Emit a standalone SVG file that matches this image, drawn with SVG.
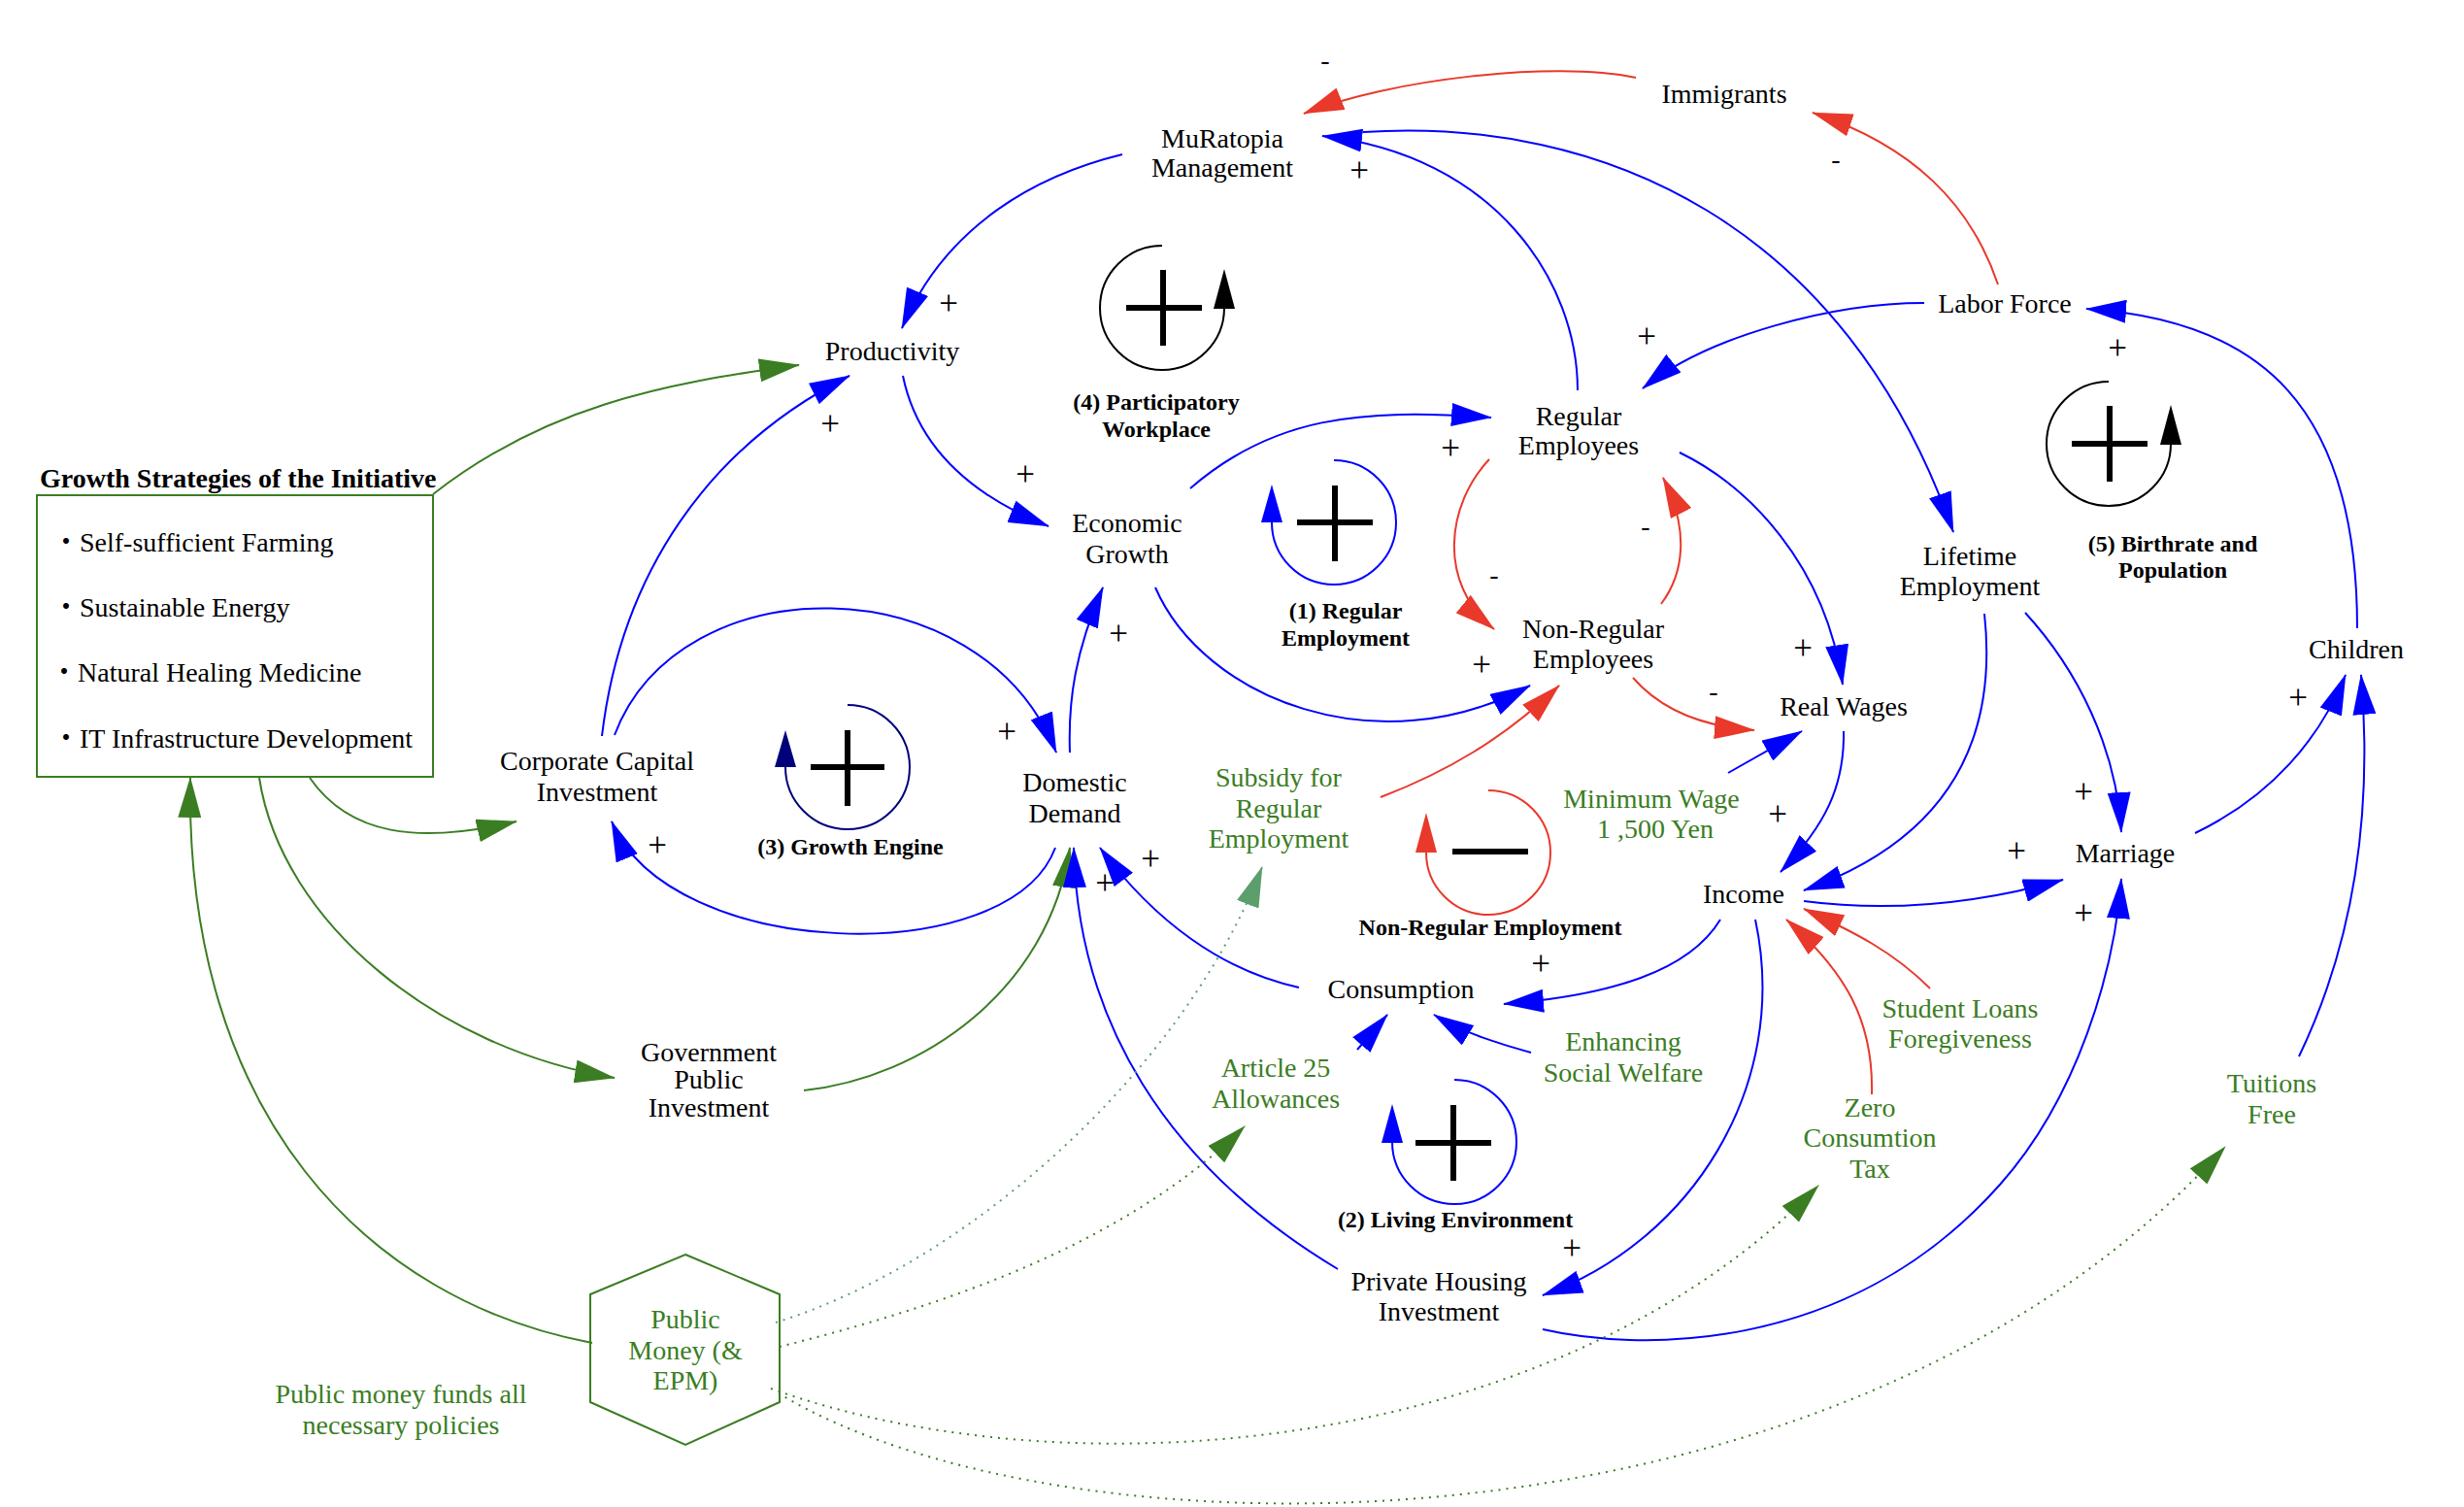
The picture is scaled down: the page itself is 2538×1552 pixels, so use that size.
<svg xmlns="http://www.w3.org/2000/svg" width="2538" height="1552" viewBox="0 0 2538 1552">
<style>
.t{font-family:"Liberation Serif","Noto Sans CJK JP",serif;font-size:28px;text-anchor:middle;fill:#000}
.p{font-size:35px}
.l{text-anchor:start}
.gr{fill:#3b7d23}
.bd{font-weight:bold;font-size:24px}
.tt{font-weight:bold;font-size:28px;text-anchor:start}
.c{fill:none;stroke-width:2}
.cb{stroke:#0000ff;marker-end:url(#ab)}
.cr{stroke:#e8392b;marker-end:url(#ar)}
.cg{stroke:#3b7d23;marker-end:url(#ag)}
.cd{stroke:#3b7d23;stroke-dasharray:2 6;marker-end:url(#ag)}
.cl{stroke:#5c9f6c;stroke-dasharray:2 6;marker-end:url(#al)}
.sym{stroke:#000;stroke-width:6;fill:none}
</style>
<defs>
<marker id="ab" viewBox="0 0 42 24" refX="41" refY="12" markerWidth="42" markerHeight="24" markerUnits="userSpaceOnUse" orient="auto"><path d="M0,0 L42,12 L0,24 z" fill="#0000ff"/></marker>
<marker id="ar" viewBox="0 0 42 24" refX="41" refY="12" markerWidth="42" markerHeight="24" markerUnits="userSpaceOnUse" orient="auto"><path d="M0,0 L42,12 L0,24 z" fill="#e8392b"/></marker>
<marker id="ag" viewBox="0 0 42 24" refX="41" refY="12" markerWidth="42" markerHeight="24" markerUnits="userSpaceOnUse" orient="auto"><path d="M0,0 L42,12 L0,24 z" fill="#3b7d23"/></marker>
<marker id="al" viewBox="0 0 42 24" refX="41" refY="12" markerWidth="42" markerHeight="24" markerUnits="userSpaceOnUse" orient="auto"><path d="M0,0 L42,12 L0,24 z" fill="#5c9f6c"/></marker>
</defs>
<rect width="2538" height="1552" fill="#fff"/>

<g id="connectors">
<path class="c cr" d="M1685,80 C1600,62 1430,82 1343,117"/>
<path class="c cr" d="M2058,293 C2030,210 1970,150 1867,116"/>
<path class="c cb" d="M1156,159 C1070,180 975,230 929,338"/>
<path class="c cb" d="M1625,402 C1625,290 1540,160 1362,140"/>
<path class="c cb" d="M1404,136 C1650,120 1900,230 2012,548"/>
<path class="c cb" d="M1982,312 C1890,312 1760,345 1692,400"/>
<path class="c cb" d="M2428,647 C2428,420 2330,330 2149,318"/>
<path class="c cb" d="M930,387 C945,460 1000,510 1080,542"/>
<path class="c cb" d="M1226,503 C1310,430 1400,420 1536,430"/>
<path class="c cb" d="M1190,605 C1240,720 1420,790 1576,706"/>
<path class="c cb" d="M1102,775 C1100,720 1108,670 1136,605"/>
<path class="c cb" d="M633,757 C700,580 1010,580 1088,775"/>
<path class="c cb" d="M620,758 C640,590 730,460 875,387"/>
<path class="c cb" d="M1087,873 C1040,1000 690,990 630,846"/>
<path class="c cg" d="M446,509 C560,420 680,395 823,376"/>
<path class="c cg" d="M319,801 C360,860 430,870 532,846"/>
<path class="c cg" d="M267,801 C290,950 450,1080 633,1110"/>
<path class="c cg" d="M610,1383 C380,1340 190,1150 196,801"/>
<path class="c cg" d="M828,1123 C950,1110 1080,1020 1102,873"/>
<path class="c cb" d="M1378,1307 C1200,1200 1110,1050 1106,873"/>
<path class="c cb" d="M1338,1017 C1260,1000 1190,950 1133,873"/>
<path class="c cb" d="M1772,947 C1740,1000 1660,1025 1549,1034"/>
<path class="c cb" d="M1577,1084 C1545,1075 1510,1065 1477,1045"/>
<path class="c cb" d="M1398,1081 L1429,1045"/>
<path class="c cb" d="M1808,947 C1845,1120 1740,1280 1589,1334"/>
<path class="c cb" d="M1589,1369 C1680,1390 1900,1400 2060,1220 C2140,1130 2178,1000 2185,905"/>
<path class="c cb" d="M1858,928 C1950,940 2040,930 2125,906"/>
<path class="c cb" d="M2044,632 C2060,780 1990,870 1858,917"/>
<path class="c cb" d="M2086,631 C2140,690 2180,770 2185,857"/>
<path class="c cb" d="M2261,858 C2340,820 2390,760 2416,695"/>
<path class="c cb" d="M2368,1088 C2420,980 2445,850 2432,695"/>
<path class="c cb" d="M1730,466 C1800,500 1880,580 1898,705"/>
<path class="c cb" d="M1899,753 C1900,810 1880,850 1834,898"/>
<path class="c cb" d="M1780,796 L1856,753"/>
<path class="c cr" d="M1534,473 C1490,520 1480,600 1539,648"/>
<path class="c cr" d="M1711,622 C1735,590 1740,545 1713,492"/>
<path class="c cr" d="M1682,698 C1710,730 1750,748 1807,752"/>
<path class="c cr" d="M1422,821 C1490,795 1550,760 1606,706"/>
<path class="c cr" d="M1988,1018 C1950,980 1910,960 1858,936"/>
<path class="c cr" d="M1928,1127 C1930,1050 1900,1000 1840,947"/>
<path class="c cl" d="M799,1362 C1000,1300 1220,1100 1300,893"/>
<path class="c cd" d="M803,1387 C950,1350 1150,1290 1282,1160"/>
<path class="c cd" d="M794,1430 C1100,1540 1600,1500 1873,1221"/>
<path class="c cd" d="M802,1435 C1100,1615 1900,1615 2292,1181"/>
</g>

<g id="polarity">
<text class="t p" x="1400" y="187">+</text>
<text class="t p" x="977" y="324">+</text>
<text class="t p" x="855" y="448">+</text>
<text class="t p" x="1056" y="500">+</text>
<text class="t p" x="1494" y="473">+</text>
<text class="t p" x="1696" y="358">+</text>
<text class="t p" x="2181" y="370">+</text>
<text class="t p" x="1152" y="664">+</text>
<text class="t p" x="1037" y="765">+</text>
<text class="t p" x="1526" y="696">+</text>
<text class="t p" x="1857" y="679">+</text>
<text class="t p" x="1831" y="850">+</text>
<text class="t p" x="677" y="882">+</text>
<text class="t p" x="1185" y="896">+</text>
<text class="t p" x="1138" y="921">+</text>
<text class="t p" x="1587" y="1004">+</text>
<text class="t p" x="1619" y="1297">+</text>
<text class="t p" x="2146" y="827">+</text>
<text class="t p" x="2077" y="888">+</text>
<text class="t p" x="2146" y="952">+</text>
<text class="t p" x="2367" y="730">+</text>
<text class="t" x="1365" y="71">-</text>
<text class="t" x="1891" y="173">-</text>
<text class="t" x="1539" y="601">-</text>
<text class="t" x="1695" y="551">-</text>
<text class="t" x="1765" y="721">-</text>
</g>

<g id="loop-4">
<path d="M1197,253 A64,64 0 1 0 1261,317" fill="none" stroke="#000" stroke-width="2"/>
<polygon points="1250,318 1272,318 1261,277" fill="#000"/>
<path class="sym" d="M1198,278 V356 M1160,317 H1238"/>
<text class="t bd" x="1191" y="422">(4) Participatory<tspan x="1191" y="450">Workplace</tspan></text>
</g>
<g id="loop-5">
<path d="M2172,393 A64,64 0 1 0 2236,457" fill="none" stroke="#000" stroke-width="2"/>
<polygon points="2225,458 2247,458 2236,417" fill="#000"/>
<path class="sym" d="M2173,418 V496 M2134,457 H2212"/>
<text class="t bd" x="2238" y="568">(5) Birthrate and<tspan x="2238" y="595">Population</tspan></text>
</g>
<g id="loop-1">
<path d="M1374,474 A64,64 0 1 1 1310,538" fill="none" stroke="#0000ff" stroke-width="2"/>
<polygon points="1299,538 1321,538 1310,499" fill="#0000ff"/>
<path class="sym" d="M1375,500 V578 M1336,538 H1414"/>
<text class="t bd" x="1386" y="637">(1) Regular<tspan x="1386" y="665">Employment</tspan></text>
</g>
<g id="loop-3">
<path d="M873,726 A64,64 0 1 1 809,790" fill="none" stroke="#00007a" stroke-width="2"/>
<polygon points="798,790 820,790 809,752" fill="#00007a"/>
<path class="sym" d="M873,752 V830 M835,790 H911"/>
<text class="t bd" x="876" y="880">(3) Growth Engine</text>
</g>
<g id="loop-2">
<path d="M1498,1112 A64,64 0 1 1 1434,1176" fill="none" stroke="#0000ff" stroke-width="2"/>
<polygon points="1423,1177 1445,1177 1434,1137" fill="#0000ff"/>
<path class="sym" d="M1497,1138 V1216 M1458,1177 H1536"/>
<text class="t bd" x="1499" y="1264">(2) Living Environment</text>
</g>
<g id="loop-nonregular">
<path d="M1533,814 A64,64 0 1 1 1469,878" fill="none" stroke="#e8392b" stroke-width="2"/>
<polygon points="1458,878 1480,878 1469,837" fill="#e8392b"/>
<path class="sym" d="M1496,877 H1574"/>
<text class="t bd" x="1535" y="963">Non-Regular Employment</text>
</g>

<g id="n-muratopia"><text class="t" x="1259" y="152">MuRatopia<tspan x="1259" y="182">Management</tspan></text></g>
<g id="n-immigrants"><text class="t" x="1776" y="106">Immigrants</text></g>
<g id="n-productivity"><text class="t" x="919" y="371">Productivity</text></g>
<g id="n-laborforce"><text class="t" x="2065" y="322">Labor Force</text></g>
<g id="n-regular"><text class="t" x="1626" y="438">Regular<tspan x="1626" y="468">Employees</tspan></text></g>
<g id="n-economic"><text class="t" x="1161" y="548">Economic<tspan x="1161" y="580">Growth</tspan></text></g>
<g id="n-nonregular"><text class="t" x="1641" y="657">Non-Regular<tspan x="1641" y="688">Employees</tspan></text></g>
<g id="n-lifetime"><text class="t" x="2029" y="582">Lifetime<tspan x="2029" y="613">Employment</tspan></text></g>
<g id="n-children"><text class="t" x="2427" y="678">Children</text></g>
<g id="n-realwages"><text class="t" x="1899" y="737">Real Wages</text></g>
<g id="n-strategies">
<rect x="38" y="510" width="408" height="290" fill="none" stroke="#3b7d23" stroke-width="2"/>
<text class="t tt" x="41" y="502">Growth Strategies of the Initiative</text>
<text class="t l" x="54" y="568">・Self-sufficient Farming</text>
<text class="t l" x="54" y="635">・Sustainable Energy</text>
<text class="t l" x="52" y="702">・Natural Healing Medicine</text>
<text class="t l" x="54" y="770">・IT Infrastructure Development</text>
</g>
<g id="n-corporate"><text class="t" x="615" y="793">Corporate Capital<tspan x="615" y="825">Investment</tspan></text></g>
<g id="n-domestic"><text class="t" x="1107" y="815">Domestic<tspan x="1107" y="847">Demand</tspan></text></g>
<g id="n-subsidy"><text class="t gr" x="1317" y="810">Subsidy for<tspan x="1317" y="842">Regular</tspan><tspan x="1317" y="873">Employment</tspan></text></g>
<g id="n-minwage"><text class="t gr" x="1701" y="832">Minimum Wage<tspan x="1705" y="863">1 ,500 Yen</tspan></text></g>
<g id="n-income"><text class="t" x="1796" y="930">Income</text></g>
<g id="n-marriage"><text class="t" x="2189" y="888">Marriage</text></g>
<g id="n-government"><text class="t" x="730" y="1093">Government<tspan x="730" y="1121">Public</tspan><tspan x="730" y="1150">Investment</tspan></text></g>
<g id="n-consumption"><text class="t" x="1443" y="1028">Consumption</text></g>
<g id="n-welfare"><text class="t gr" x="1672" y="1082">Enhancing<tspan x="1672" y="1114">Social Welfare</tspan></text></g>
<g id="n-studentloans"><text class="t gr" x="2019" y="1048">Student Loans<tspan x="2019" y="1079">Foregiveness</tspan></text></g>
<g id="n-article25"><text class="t gr" x="1314" y="1109">Article 25<tspan x="1314" y="1141">Allowances</tspan></text></g>
<g id="n-zerotax"><text class="t gr" x="1926" y="1150">Zero<tspan x="1926" y="1181">Consumtion</tspan><tspan x="1926" y="1213">Tax</tspan></text></g>
<g id="n-tuitions"><text class="t gr" x="2340" y="1125">Tuitions<tspan x="2340" y="1157">Free</tspan></text></g>
<g id="n-housing"><text class="t" x="1482" y="1329">Private Housing<tspan x="1482" y="1360">Investment</tspan></text></g>
<g id="n-publicmoney">
<polygon points="706,1292 803,1333 803,1444 706,1488 608,1444 608,1333" fill="none" stroke="#3b7d23" stroke-width="2"/>
<text class="t gr" x="706" y="1368">Public<tspan x="706" y="1400">Money (&amp;</tspan><tspan x="706" y="1431">EPM)</tspan></text>
</g>
<g id="n-note"><text class="t gr" x="413" y="1445">Public money funds all<tspan x="413" y="1477">necessary policies</tspan></text></g>
</svg>
